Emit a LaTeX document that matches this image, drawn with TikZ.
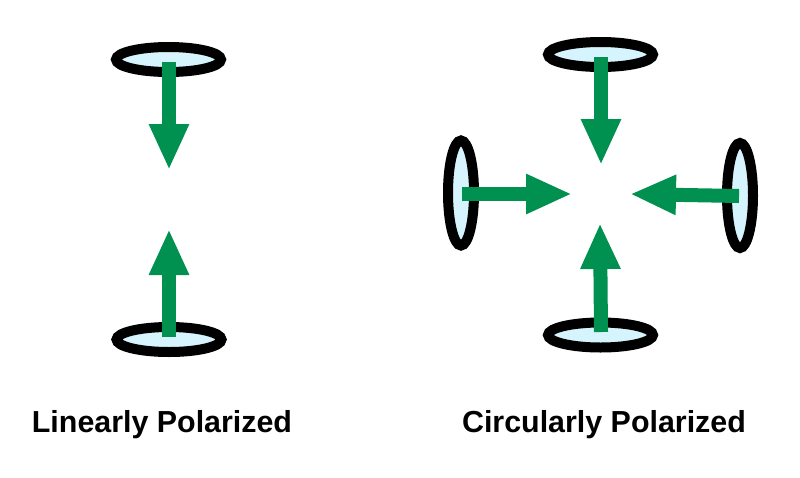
\documentclass[tikz,border=0pt]{standalone}
\usepackage{fontspec}
\setmainfont{Liberation Sans}
\usetikzlibrary{shapes.geometric,arrows.meta}
\definecolor{arrowgreen}{RGB}{0,145,80}
\definecolor{lensblue}{RGB}{214,244,253}
\tikzset{
  hlens/.style={ellipse,draw=black,fill=lensblue,line width=10pt,minimum width=105pt,minimum height=25pt,inner sep=0pt},
  vlens/.style={ellipse,draw=black,fill=lensblue,line width=10pt,minimum width=26pt,minimum height=105pt,inner sep=0pt},
  garrow/.style={draw=arrowgreen,line width=14pt,-{Triangle[width=37pt,length=46pt]}},
  caption/.style={font=\bfseries\fontsize{30.4}{36}\selectfont,anchor=base,inner sep=0pt}
}
\begin{document}
\begin{tikzpicture}[x=1pt,y=-1pt]
\useasboundingbox[fill=white] (0,0) rectangle (800,477);
% linearly polarized
\node[hlens] (lt) at (168.5,59.5) {};
\node[hlens] (lb) at (169,339.5) {};
\coordinate (ltS) at (169,62);
\coordinate (ltT) at (169,170);
\coordinate (lbS) at (169,337);
\coordinate (lbT) at (169,229);
\draw[garrow] (ltS) -- (ltT);
\draw[garrow] (lbS) -- (lbT);
% circularly polarized
\node[hlens] (rt) at (600.5,54.5) {};
\node[hlens] (rb) at (600.5,335) {};
\node[vlens] (rl) at (461,193) {};
\node[vlens] (rr) at (740,195.5) {};
\coordinate (rtS) at (601,57);
\coordinate (rtT) at (601,165);
\coordinate (rbS) at (601,332);
\coordinate (rbT) at (600,223);
\coordinate (rlS) at (462,194);
\coordinate (rlT) at (572,194);
\coordinate (rrS) at (739,196);
\coordinate (rrT) at (630,194);
\draw[garrow] (rtS) -- (rtT);
\draw[garrow] (rbS) -- (rbT);
\draw[garrow] (rlS) -- (rlT);
\draw[garrow] (rrS) -- (rrT);
% captions
\node[caption] (c1) at (162,432) {Linearly Polarized};
\node[caption] (c2) at (604,432) {Circularly Polarized};
\end{tikzpicture}
\end{document}
